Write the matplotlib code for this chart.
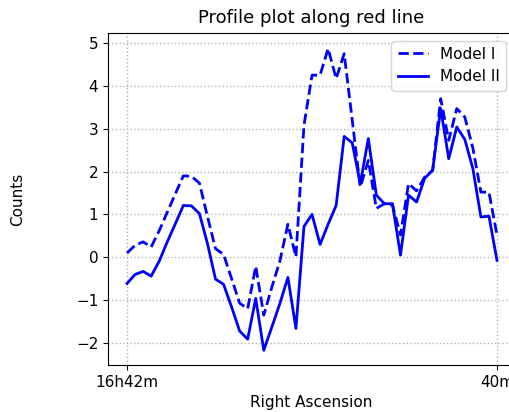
import numpy as np
import matplotlib
matplotlib.use("Agg")
import matplotlib.pyplot as plt

# Profile samples along the cut (RA in minutes of 16h, decreasing to the right)
ra_minutes = np.linspace(42.0, 40.0, 47)

model_1 = [0.10, 0.28, 0.36, 0.24, 0.62, 1.05, 1.48, 1.90, 1.89, 1.73,
           0.95, 0.20, 0.07, -0.50, -1.07, -1.20, -0.21, -1.35, -0.70, -0.09,
           0.77, 0.01, 3.08, 4.25, 4.25, 4.87, 4.17, 4.75, 3.20, 1.64,
           2.26, 1.14, 1.25, 1.22, 0.52, 1.72, 1.55, 1.87, 2.03, 3.70,
           2.73, 3.47, 3.27, 2.55, 1.52, 1.52, 0.52]

model_2 = [-0.61, -0.40, -0.33, -0.44, -0.09, 0.36, 0.78, 1.21, 1.20, 1.02,
           0.32, -0.51, -0.63, -1.16, -1.72, -1.91, -0.96, -2.17, -1.63, -1.08,
           -0.47, -1.66, 0.72, 1.00, 0.30, 0.77, 1.21, 2.82, 2.67, 1.72,
           2.77, 1.45, 1.25, 1.25, 0.05, 1.45, 1.29, 1.84, 2.03, 3.47,
           2.30, 3.04, 2.75, 2.07, 0.94, 0.96, -0.07]

tick_pos = [42.0, 40.0]
tick_labels = ["16h42m", "40m"]

fig = plt.figure(figsize=(5.10, 4.12), dpi=100)
ax = fig.add_axes([108 / 510, 47 / 412, 406 / 510, 332 / 412])

ax.plot(ra_minutes, model_1, color="blue", linestyle="--", linewidth=2, label="Model I")
ax.plot(ra_minutes, model_2, color="blue", linestyle="-", linewidth=2, label="Model II")

ax.set_xlim(42.103, 39.908)
ax.set_ylim(-2.513, 5.233)
ax.set_xticks(tick_pos)
ax.set_xticklabels(tick_labels)
ax.set_yticks(range(-2, 6))

ax.grid(True, linestyle=":", color="0.7", linewidth=1)
ax.tick_params(labelsize=11)

ax.set_title("Profile plot along red line", fontsize=13, pad=7)
ax.set_xlabel("Right Ascension", fontsize=11)
ax.set_ylabel("Counts", fontsize=11)
ax.yaxis.set_label_coords(-0.205, 0.5)

ax.legend(loc="upper right", fontsize=11)

fig.savefig("out.png", dpi=100)
